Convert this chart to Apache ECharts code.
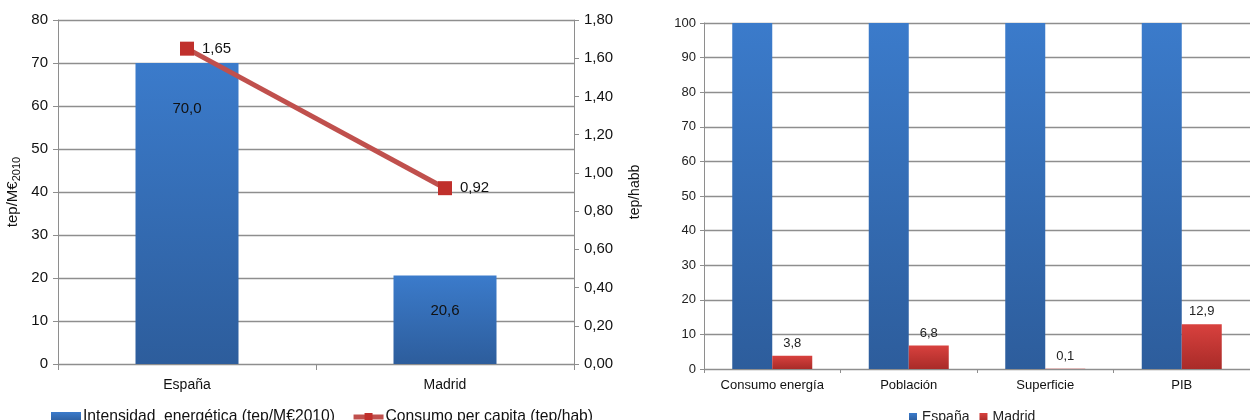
<!DOCTYPE html>
<html>
<head>
<meta charset="utf-8">
<script src="https://cdn.jsdelivr.net/npm/echarts@6/dist/echarts.min.js"></script>
<style>
  html, body { margin: 0; padding: 0; background: #fff; }
  #chart { width: 1250px; height: 420px; }
</style>
</head>
<body>
<div id="chart"></div>
<script>
// datos grafico izquierdo
var regiones = ['España', 'Madrid'];
var intensidad = [70.0, 20.6];
var consumoCapita = [1.65, 0.92];

// datos grafico derecho (España = 100)
var indicadores = ['Consumo energía', 'Población', 'Superficie', 'PIB'];
var espana = [100, 100, 100, 100];
var madrid = [3.8, 6.8, 0.1, 12.9];

// separacion de la etiqueta dentro de cada barra (px)
var distEtiqueta = [38, 28];

function coma(v, d) {
	return v.toFixed(d).replace('.', ',');
}

var azul = {
	type : 'linear', x : 0, y : 0, x2 : 0, y2 : 1,
	colorStops : [ { offset : 0, color : '#3b7bcb' }, { offset : 1, color : '#2d5d9c' } ]
};
var rojo = {
	type : 'linear', x : 0, y : 0, x2 : 0, y2 : 1,
	colorStops : [ { offset : 0, color : '#d8413e' }, { offset : 1, color : '#a92b28' } ]
};
var gris = '#8e8e8e';
var fuente = 'Liberation Sans, Arial, sans-serif';

var myChart = echarts.init(document.getElementById('chart'));
var option = {
	animation : false,
	textStyle : { fontFamily : fuente },
	grid : [
		{ left : 58, top : 20, width : 516, height : 344 },
		{ left : 704, top : 23, width : 554, height : 346 }
	],
	legend : [ {
		left : 46,
		top : 404,
		itemWidth : 30,
		itemHeight : 10,
		itemGap : 16,
		textStyle : { fontSize : 15.7, color : '#111', fontFamily : fuente, padding : [ 0, 0, 0, -3 ] },
		data : [
			{ name : 'Intensidad  energética (tep/M€2010)', icon : 'rect' },
			{ name : 'Consumo per capita (tep/hab)', lineStyle : { width : 5, color : '#c0504d' } }
		]
	}, {
		left : 904,
		top : 405,
		itemWidth : 8,
		itemHeight : 8,
		itemGap : 10,
		icon : 'rect',
		textStyle : { fontSize : 14, color : '#222', fontFamily : fuente },
		data : [ 'España', 'Madrid' ]
	} ],
	xAxis : [ {
		gridIndex : 0,
		type : 'category',
		data : regiones,
		axisLine : { lineStyle : { color : gris } },
		axisTick : { show : true, length : 6, lineStyle : { color : gris } },
		axisLabel : { color : '#111', fontSize : 14, margin : 14 }
	}, {
		gridIndex : 1,
		type : 'category',
		data : indicadores,
		axisLine : { lineStyle : { color : gris } },
		axisTick : { show : true, length : 4, lineStyle : { color : gris } },
		axisLabel : { color : '#111', fontSize : 13, margin : 10 }
	} ],
	yAxis : [ {
		gridIndex : 0,
		type : 'value',
		min : 0,
		max : 80,
		interval : 10,
		name : 'tep/M€{sub|2010}',
		nameLocation : 'middle',
		nameRotate : 90,
		nameGap : 36,
		nameTextStyle : {
			fontSize : 15, color : '#111',
			rich : { sub : { fontSize : 11, color : '#111', padding : [ 8, 0, 0, 0 ] } }
		},
		axisLine : { show : true, lineStyle : { color : gris } },
		axisTick : { show : true, length : 5, lineStyle : { color : gris } },
		axisLabel : { color : '#111', fontSize : 15, margin : 10 },
		splitLine : { lineStyle : { color : gris, width : 1.3 } }
	}, {
		gridIndex : 0,
		type : 'value',
		position : 'right',
		min : 0,
		max : 1.8,
		interval : 0.2,
		name : 'tep/habb',
		nameLocation : 'middle',
		nameRotate : 90,
		nameGap : 54,
		nameTextStyle : { fontSize : 14, color : '#111' },
		axisLine : { show : true, lineStyle : { color : gris } },
		axisTick : { show : true, length : 5, lineStyle : { color : gris } },
		axisLabel : {
			color : '#111', fontSize : 15, margin : 10,
			formatter : function(v) { return coma(v, 2); }
		},
		splitLine : { show : false }
	}, {
		gridIndex : 1,
		type : 'value',
		min : 0,
		max : 100,
		interval : 10,
		axisLine : { show : true, lineStyle : { color : gris } },
		axisTick : { show : true, length : 4, lineStyle : { color : gris } },
		axisLabel : { color : '#222', fontSize : 13, margin : 8 },
		splitLine : { lineStyle : { color : gris, width : 1.3 } }
	} ],
	series : [ {
		name : 'Intensidad  energética (tep/M€2010)',
		type : 'bar',
		xAxisIndex : 0,
		yAxisIndex : 0,
		data : intensidad.map(function(v, i) {
			return { value : v, label : { distance : distEtiqueta[i] } };
		}),
		barWidth : 103,
		itemStyle : { color : azul },
		label : {
			show : true,
			position : 'insideTop',
			color : '#111',
			fontSize : 15,
			formatter : function(p) { return coma(p.value, 1); }
		},
		z : 2
	}, {
		name : 'Consumo per capita (tep/hab)',
		type : 'line',
		xAxisIndex : 0,
		yAxisIndex : 1,
		data : consumoCapita,
		symbol : 'rect',
		symbolSize : 14,
		itemStyle : { color : '#c0302c' },
		lineStyle : { color : '#c0504d', width : 5 },
		label : {
			show : true,
			position : 'right',
			distance : 8,
			color : '#111',
			fontSize : 15,
			formatter : function(p) { return coma(p.value, 2); }
		},
		z : 5
	}, {
		name : 'España',
		type : 'bar',
		xAxisIndex : 1,
		yAxisIndex : 2,
		data : espana,
		barWidth : 40,
		barGap : '0%',
		itemStyle : { color : azul }
	}, {
		name : 'Madrid',
		type : 'bar',
		xAxisIndex : 1,
		yAxisIndex : 2,
		data : madrid,
		barWidth : 40,
		barGap : '0%',
		itemStyle : { color : rojo },
		label : {
			show : true,
			position : 'top',
			distance : 6,
			color : '#222',
			fontSize : 13,
			formatter : function(p) { return coma(p.value, 1); }
		}
	} ]
};
myChart.setOption(option);
</script>
</body>
</html>
